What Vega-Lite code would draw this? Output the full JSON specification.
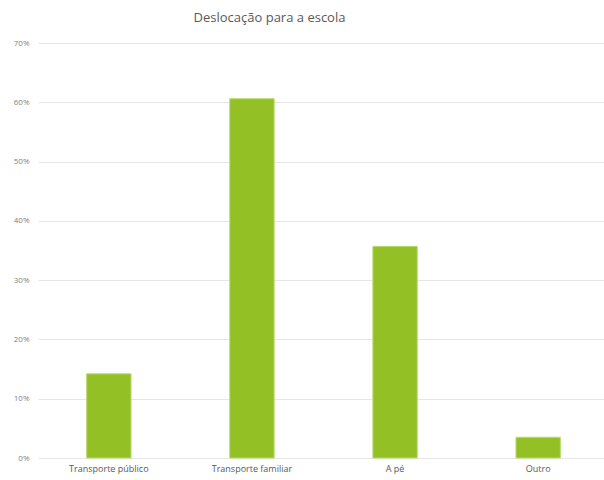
{
  "$schema": "https://vega.github.io/schema/vega-lite/v6.json",
  "autosize": {"type": "none"},
  "width": 571,
  "height": 415,
  "padding": {"left": 38, "top": 43, "right": 0, "bottom": 22},
  "background": "white",
  "title": {
    "text": "Deslocação para a escola",
    "font": "Open Sans",
    "fontSize": 13,
    "fontWeight": "normal",
    "color": "#595959",
    "anchor": "middle",
    "offset": 14,
    "dx": -54
  },
  "data": {
    "values": [
      {"modo": "Transporte público", "valor": 0.142},
      {"modo": "Transporte familiar", "valor": 0.606},
      {"modo": "A pé", "valor": 0.357},
      {"modo": "Outro", "valor": 0.035}
    ]
  },
  "mark": {"type": "bar", "color": "#93c125", "stroke": "#b9da74", "strokeWidth": 1},
  "encoding": {
    "x": {
      "field": "modo",
      "type": "nominal",
      "sort": null,
      "scale": {"paddingInner": 0.69, "paddingOuter": 0.34},
      "axis": {
        "title": null,
        "labelAngle": 0,
        "domain": false,
        "ticks": false,
        "labelFont": "Open Sans",
        "labelFontSize": 9,
        "labelColor": "#595959",
        "labelPadding": 6
      }
    },
    "y": {
      "field": "valor",
      "type": "quantitative",
      "scale": {"domain": [0, 0.7], "nice": false},
      "axis": {
        "title": null,
        "format": ".0%",
        "values": [0, 0.1, 0.2, 0.3, 0.4, 0.5, 0.6, 0.7],
        "domain": false,
        "ticks": false,
        "grid": true,
        "gridColor": "#e6e6e6",
        "gridWidth": 1,
        "labelFont": "Open Sans",
        "labelFontSize": 8,
        "labelColor": "#7f7f7f",
        "labelPadding": 9
      }
    }
  },
  "config": {"view": {"stroke": null}}
}
